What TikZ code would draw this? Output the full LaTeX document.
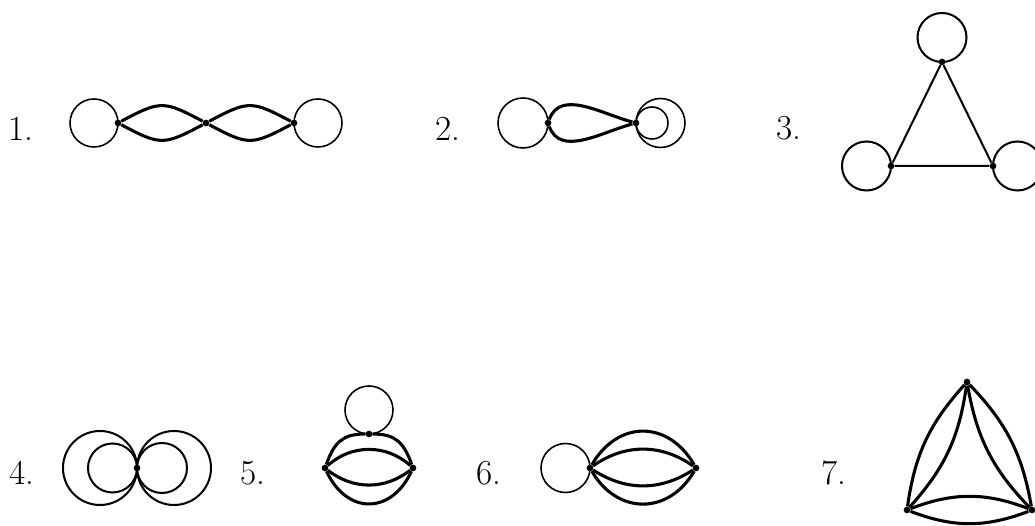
\documentclass[tikz,border=0pt]{standalone}
\usepackage{tikz}
\usetikzlibrary{calc}

\begin{document}
\begin{tikzpicture}[x=0.02cm, y=0.02cm,
  every node/.style={font=\fontsize{20}{24}\selectfont},
  num/.style={anchor=base west, inner sep=0pt},
  vtx/.style={circle, fill, inner sep=0pt, minimum size=3.8pt},
  loopline/.style={line width=0.9pt},
  triline/.style={line width=1.15pt},
  edgeline/.style={line width=1.75pt}]
\useasboundingbox (0,0) rectangle (1035,526);
\clip (0,0) rectangle (1035,526);
\foreach \n/\x/\y in {1/8/385, 2/435/385, 3/776/386, 4/9/41, 5/240/41, 6/476/41, 7/821/41}
  \node[num] (lab\n) at (\x,\y) {\n.};

\node[vtx] (a1) at (118,403) {};
\node[vtx] (a2) at (206,403) {};
\node[vtx] (a3) at (294,403) {};
\draw[loopline] ($(a1)+(-24,0)$) circle[radius=24];
\draw[loopline] ($(a3)+(24,0)$) circle[radius=24];
\draw[edgeline] (a1) to[out=28, in=152, looseness=1.4] (a2) to[out=28, in=152, looseness=1.4] (a3);
\draw[edgeline] (a1) to[out=-28, in=-152, looseness=1.4] (a2) to[out=-28, in=-152, looseness=1.4] (a3);

\node[vtx] (b1) at (548,403) {};
\node[vtx] (b2) at (636,403) {};
\draw[loopline] ($(b1)+(-25,0)$) circle[radius=25];
\draw[loopline] ($(b2)+(24.5,0)$) circle[radius=24.5];
\draw[loopline] ($(b2)+(16,0)$) circle[radius=16];
\draw[edgeline] (b1) to[out=70, in=165] (b2);
\draw[edgeline] (b1) to[out=-70, in=-165] (b2);

\node[vtx] (c1) at (942,464) {};
\node[vtx] (c2) at (891,360) {};
\node[vtx] (c3) at (993,360) {};
\draw[triline] ($(c1)+(0,24.5)$) circle[radius=24.5];
\draw[triline] ($(c2)+(-24.5,0)$) circle[radius=24.5];
\draw[triline] ($(c3)+(24.5,0)$) circle[radius=24.5];
\draw[triline] (c1) -- (c2) -- (c3) -- (c1);

\node[vtx] (d1) at (137,58) {};
\draw[triline] ($(d1)+(-37,0)$) circle[radius=37];
\draw[triline] ($(d1)+(-24.5,0)$) circle[radius=24.5];
\draw[triline] ($(d1)+(37,0)$) circle[radius=37];
\draw[triline] ($(d1)+(25,0)$) circle[radius=25];

\node[vtx] (e1) at (325,58) {};
\node[vtx] (e2) at (413,58) {};
\node[vtx] (e3) at (369,92) {};
\draw[loopline] ($(e3)+(0,24)$) circle[radius=24];
\draw[edgeline] (e1) to[out=70, in=180, looseness=1.2] (e3) to[out=0, in=110, looseness=1.2] (e2);
\draw[edgeline] (e1) to[out=42, in=138] (e2);
\draw[edgeline] (e1) to[out=-38, in=-142] (e2);
\draw[edgeline] (e1) to[out=-65, in=-115, looseness=1.45] (e2);

\node[vtx] (f1) at (590,58) {};
\node[vtx] (f2) at (696,58) {};
\draw[loopline] ($(f1)+(-24.5,0)$) circle[radius=24.5];
\draw[edgeline] (f1) to[out=60, in=120, looseness=1.3] (f2);
\draw[edgeline] (f1) to[out=35, in=145] (f2);
\draw[edgeline] (f1) to[out=-33, in=-147] (f2);
\draw[edgeline] (f1) to[out=-60, in=-120, looseness=1.27] (f2);

\node[vtx] (g1) at (967,144) {};
\node[vtx] (g2) at (907,16) {};
\node[vtx] (g3) at (1032,16) {};
\draw[edgeline] (g1) to[bend right=17] (g2);
\draw[edgeline] (g1) to[bend left=17] (g2);
\draw[edgeline] (g1) to[bend left=17] (g3);
\draw[edgeline] (g1) to[bend right=17] (g3);
\draw[edgeline] (g2) to[bend left=21] (g3);
\draw[edgeline] (g2) to[bend right=21] (g3);
\end{tikzpicture}
\end{document}
